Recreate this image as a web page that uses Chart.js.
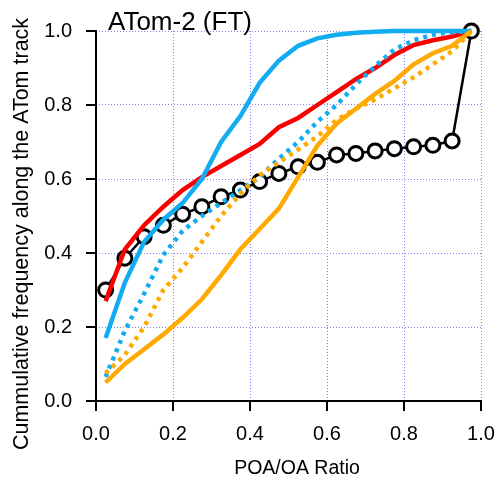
<!DOCTYPE html>
<html>
<head>
<meta charset="utf-8">
<script src="https://cdn.jsdelivr.net/npm/chart.js@4"></script>
<style>
  html, body { margin: 0; padding: 0; background: #fff; }
  #wrap { width: 500px; height: 480px; position: relative; }
</style>
</head>
<body>
<div id="wrap"><canvas id="chart" width="500" height="480"></canvas></div>
<script>
// bin centres of the POA/OA ratio
const ratioBins = [0.025, 0.075, 0.125, 0.175, 0.225, 0.275, 0.325, 0.375, 0.425, 0.475,
                   0.525, 0.575, 0.625, 0.675, 0.725, 0.775, 0.825, 0.875, 0.925, 0.975];

const blueSolid  = [0.17, 0.32, 0.43, 0.49, 0.535, 0.60, 0.70, 0.77, 0.86, 0.92,
                    0.96, 0.98, 0.99, 0.995, 0.998, 1.0, 1.0, 1.0, 1.0, 1.0];
const redSolid   = [0.27, 0.41, 0.475, 0.525, 0.57, 0.605, 0.635, 0.665, 0.695, 0.74,
                    0.765, 0.80, 0.835, 0.87, 0.90, 0.935, 0.962, 0.975, 0.985, 1.0];
const blueDotted = [0.065, 0.19, 0.29, 0.395, 0.46, 0.50, 0.535, 0.57, 0.605, 0.655,
                    0.70, 0.755, 0.80, 0.855, 0.905, 0.95, 0.975, 0.99, 0.997, 1.0];
const orangeSolid = [0.05, 0.10, 0.14, 0.18, 0.225, 0.275, 0.34, 0.41, 0.465, 0.52,
                     0.605, 0.69, 0.75, 0.79, 0.83, 0.865, 0.91, 0.94, 0.96, 1.0];
const orangeDotted = [0.075, 0.125, 0.20, 0.30, 0.36, 0.43, 0.50, 0.56, 0.61, 0.645,
                      0.68, 0.715, 0.76, 0.79, 0.815, 0.845, 0.875, 0.91, 0.945, 1.0];
const blackCircles = [0.30, 0.386, 0.444, 0.475, 0.505, 0.525, 0.552, 0.570, 0.593, 0.615,
                      0.633, 0.645, 0.665, 0.669, 0.676, 0.682, 0.687, 0.691, 0.703, 1.0];

const tickValues = [0, 0.2, 0.4, 0.6, 0.8, 1.0];
const titleText = 'ATom-2 (FT)';
const xLabel = 'POA/OA Ratio';
const yLabel = 'Cummulative frequency along the ATom track';

const BLUE = '#12acf2', RED = '#fa0000', ORANGE = '#ffaa00';
const FONT = '"Liberation Sans", Arial, sans-serif';
const TICK_LEN = 10;

const pts = vals => vals.map((v, i) => ({ x: ratioBins[i], y: v }));

function lineSet(vals, color, dashed) {
  return {
    data: pts(vals), borderColor: color, borderWidth: 4.5, pointRadius: 0,
    borderDash: dashed ? [4, 5] : [], borderCapStyle: 'butt', tension: 0, clip: false,
  };
}

// axis lines, outward ticks and text labels
const decorPlugin = {
  id: 'decor',
  beforeDatasetsDraw(chart) {
    const c = chart.ctx, a = chart.chartArea;
    const xs = chart.scales.x, ys = chart.scales.y;
    c.save();
    c.strokeStyle = '#000';
    c.lineWidth = 2;
    c.beginPath();
    c.moveTo(a.left, a.top - 1); c.lineTo(a.left, a.bottom); c.lineTo(a.right + 1, a.bottom);
    tickValues.forEach(v => {
      const px = xs.getPixelForValue(v);
      c.moveTo(px, a.bottom); c.lineTo(px, a.bottom + TICK_LEN);
      const py = ys.getPixelForValue(v);
      c.moveTo(a.left, py); c.lineTo(a.left - TICK_LEN, py);
    });
    c.stroke();
    c.restore();
  },
  afterDraw(chart) {
    const c = chart.ctx, a = chart.chartArea;
    c.save();
    c.fillStyle = '#000';
    c.font = '26px ' + FONT;
    c.textAlign = 'left'; c.textBaseline = 'alphabetic';
    c.fillText(titleText, a.left + 12, 30);
    c.font = '19.5px ' + FONT;
    c.textAlign = 'center';
    c.fillText(xLabel, 297, 474);
    c.font = '21.5px ' + FONT;
    c.translate(28, 234);
    c.rotate(-Math.PI / 2);
    c.fillText(yLabel, 0, 0);
    c.restore();
  }
};

const axis = {
  type: 'linear', min: 0, max: 1,
  afterBuildTicks: s => { s.ticks = tickValues.map(v => ({ value: v })); },
  ticks: { color: '#000', font: { size: 20, family: FONT }, callback: v => v.toFixed(1) },
  grid: { color: '#8282f5', lineWidth: 1, tickLength: TICK_LEN, tickColor: 'rgba(0,0,0,0)' },
  border: { display: false, dash: [1, 2] },
};

new Chart(document.getElementById('chart'), {
  type: 'line',
  data: {
    datasets: [
      lineSet(orangeDotted, ORANGE, true),
      lineSet(orangeSolid, ORANGE, false),
      lineSet(blueDotted, BLUE, true),
      lineSet(blueSolid, BLUE, false),
      lineSet(redSolid, RED, false),
      {
        data: pts(blackCircles), borderColor: '#000', borderWidth: 2.5, tension: 0,
        pointRadius: 7, pointBackgroundColor: '#fff', pointBorderColor: '#000',
        pointBorderWidth: 3, clip: false,
      },
    ],
  },
  options: {
    responsive: false, animation: false, events: [],
    layout: { padding: { left: 0, right: 19, top: 31, bottom: 0 } },
    plugins: { legend: { display: false }, tooltip: { enabled: false } },
    scales: {
      x: Object.assign({}, axis, {
        ticks: Object.assign({}, axis.ticks, { padding: 11 }),
        afterFit: s => { s.height = 79; s.paddingLeft = 0; s.paddingRight = 0; },
      }),
      y: Object.assign({}, axis, {
        ticks: Object.assign({}, axis.ticks, { padding: 14 }),
        afterFit: s => { s.width = 96; s.paddingTop = 0; s.paddingBottom = 0; },
      }),
    },
  },
  plugins: [decorPlugin],
});
</script>
</body>
</html>
